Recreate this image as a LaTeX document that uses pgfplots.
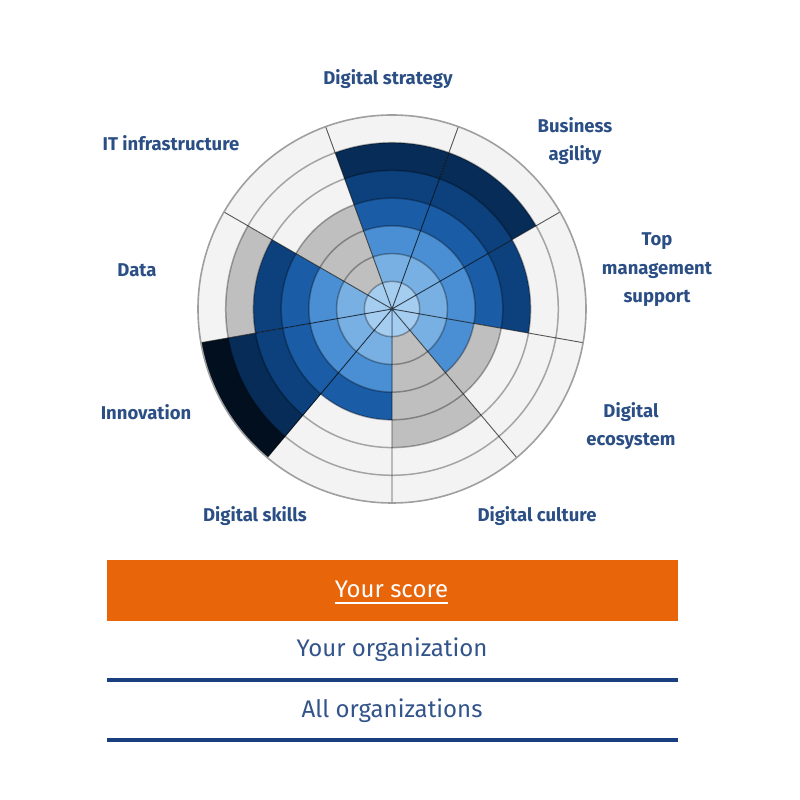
\documentclass[border=0pt]{standalone}
\usepackage{fontspec}
\setmainfont{Fira Sans}
\usepackage{pgfplots}
\pgfplotsset{compat=1.18}
\usepgfplotslibrary{polar}
\definecolor{r1}{HTML}{A5CDF0}
\definecolor{r2}{HTML}{78B0E4}
\definecolor{r3}{HTML}{4A8ED3}
\definecolor{r4}{HTML}{1A5CA6}
\definecolor{r5}{HTML}{0D417D}
\definecolor{r6}{HTML}{062C57}
\definecolor{r7}{HTML}{020F1F}
\definecolor{bgw}{HTML}{F3F3F3}
\definecolor{benchgray}{HTML}{C0BFBF}
\definecolor{labc}{HTML}{2B4F85}
\definecolor{botc}{HTML}{33548A}
\definecolor{orangec}{HTML}{E8650A}
\definecolor{linec}{HTML}{1A3F7F}
% #1 start angle, #2 end angle, #3 your score (rings), #4 benchmark (rings)
\newcommand{\sector}[4]{%
  \addplot[fill=bgw, draw=none, domain=#1:#2, samples=30] {7} -- (axis cs:0,0) -- cycle;
  \ifnum#4>#3\relax
    \addplot[fill=benchgray, draw=none, domain=#1:#2, samples=30] {#4} -- (axis cs:0,0) -- cycle;
  \fi
  \pgfplotsinvokeforeach{#3,...,1}{%
    \addplot[fill=r##1, draw=none, domain=#1:#2, samples=30] {##1} -- (axis cs:0,0) -- cycle;}%
}
\begin{document}
\begin{tikzpicture}[x=1pt,y=1pt]
\path (0,0) rectangle (800,800);
\begin{polaraxis}[
  at={(392pt,491pt)}, anchor=origin,
  scale only axis, width=388pt, height=388pt,
  xmin=0, xmax=360, ymin=0, ymax=7,
  xtick={30,70,110,150,190,230,270,310,350},
  ytick={1,2,3,4,5,6},
  xticklabels={}, yticklabels={},
  ticklabel style={text opacity=0},
  major tick length=0pt,
  grid=major,
  major x grid style={black, opacity=0.65, line width=0.9pt},
  major y grid style={black, opacity=0.32, line width=1.5pt},
  x axis line style={gray!75, line width=1.6pt},
  y axis line style={draw=none},
  axis on top,
]
% sector: start, end, score, benchmark
\sector{70}{110}{6}{0}   % Digital strategy
\sector{30}{70}{6}{0}    % Business agility
\sector{-10}{30}{5}{0}   % Top management support
\sector{310}{350}{3}{4}  % Digital ecosystem
\sector{270}{310}{1}{5}  % Digital culture
\sector{230}{270}{4}{0}  % Digital skills
\sector{190}{230}{7}{0}  % Innovation
\sector{150}{190}{5}{6}  % Data
\sector{110}{150}{1}{4}  % IT infrastructure
\end{polaraxis}
\begin{scope}[every node/.style={text=labc, font=\fontsize{18.5}{28.5}\selectfont\bfseries, align=center}]
\node at (388,721) {Digital strategy};
\node at (575,659) {Business\\agility};
\node at (657,530) {Top\\management\\support};
\node at (631,374) {Digital\\ecosystem};
\node at (537,284) {Digital culture};
\node at (255,284) {Digital skills};
\node at (146,388) {Innovation};
\node at (137,530) {Data};
\node at (171,657) {IT infrastructure};
\end{scope}
\fill[orangec] (107,179) rectangle (678,240);
\node[anchor=base, inner sep=0pt, text=white, font=\fontsize{24}{28}\selectfont] (ys) at (391.5,202) {Your score};
\draw[white, line width=1.6pt] ([yshift=-5pt]ys.base west) -- ([yshift=-5pt]ys.base east);
\node[text=botc, font=\fontsize{24}{28}\selectfont] at (392,150) {Your organization};
\fill[linec] (107,118) rectangle (678,122);
\node[text=botc, font=\fontsize{24}{28}\selectfont] at (392,89) {All organizations};
\fill[linec] (107,58) rectangle (678,62);
\end{tikzpicture}
\end{document}
